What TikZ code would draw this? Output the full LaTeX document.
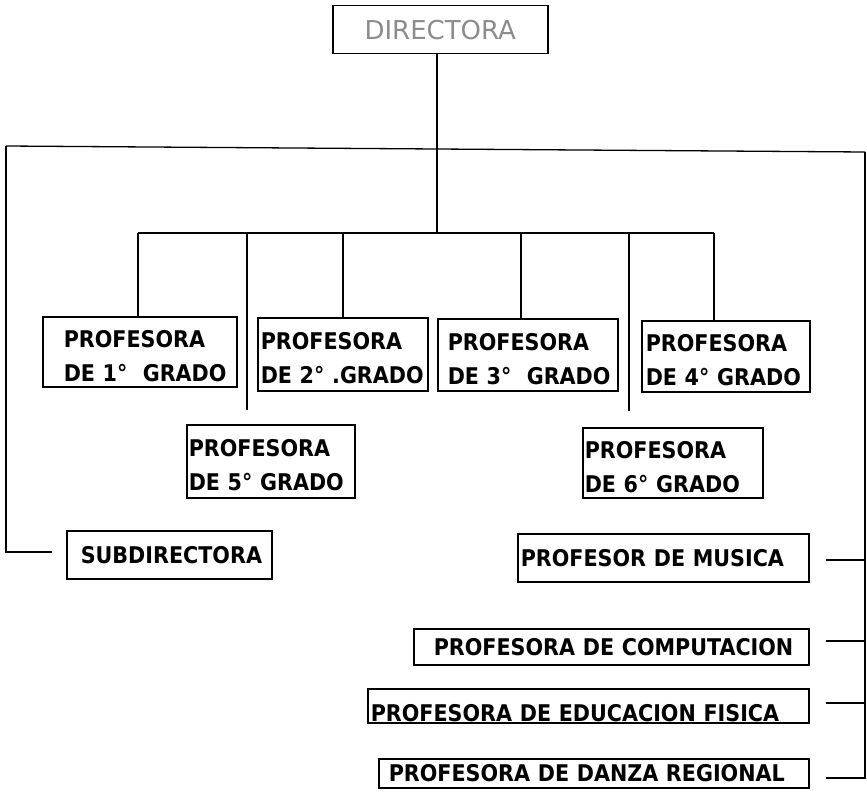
\documentclass[tikz,border=0pt]{standalone}
\usepackage{fontspec}
\setmainfont{DejaVu Sans}
\newfontfamily\boxfont{DejaVu Sans Condensed}
\begin{document}
\begin{tikzpicture}[x=1pt,y=-1pt,
  box/.style={draw, line width=1.5pt, anchor=north west, inner ysep=0pt, align=left,
    font=\boxfont\bfseries\fontsize{23}{34}\selectfont},
  grade/.style={box, text height=25pt},
  conn/.style={line width=1.3pt}]
\useasboundingbox (0,0) rectangle (867,797);
% boxes
\node[box, minimum width=215pt, minimum height=48pt, inner xsep=0pt, text width=215pt, align=center,
  text=black!45, font=\fontsize{26}{30}\selectfont] (dir) at (332,5) {DIRECTORA};
\node[grade, minimum height=70pt, inner xsep=21pt, text width=152pt] (b1) at (42,316) {\mbox{PROFESORA}\\\mbox{DE 1°\ \ GRADO}};
\node[grade, minimum height=73pt, inner xsep=3pt, text width=164pt] (b2) at (257,317) {\mbox{PROFESORA}\\\mbox{DE 2° .GRADO}};
\node[grade, minimum height=72pt, inner xsep=10pt, text width=160pt] (b3) at (437,318) {\mbox{PROFESORA}\\\mbox{DE 3°\ \ GRADO}};
\node[grade, minimum height=71pt, inner xsep=4pt, text width=160pt] (b4) at (641,320) {\mbox{PROFESORA}\\\mbox{DE 4° GRADO}};
\node[grade, minimum height=73pt, inner xsep=2pt, text width=164pt] (b5) at (186,424) {\mbox{PROFESORA}\\\mbox{DE 5° GRADO}};
\node[grade, minimum height=70pt, inner xsep=2pt, text width=176pt] (b6) at (582,427) {\mbox{PROFESORA}\\\mbox{DE 6° GRADO}};
\node[box, minimum height=48pt, inner xsep=14pt, text width=177pt] (sub) at (66,530) {\mbox{SUBDIRECTORA}};
\node[box, minimum height=48pt, inner xsep=3pt, text width=285pt] (mus) at (517,533) {\mbox{PROFESOR DE MUSICA}};
\node[box, minimum height=36pt, inner xsep=20pt, text width=355pt] (comp) at (413,628) {\mbox{PROFESORA DE COMPUTACION}};
\node[box, minimum height=34pt, inner xsep=3pt, text width=435pt] (edu) at (367,688) {\raisebox{-7pt}[17pt][0pt]{\mbox{PROFESORA DE EDUCACION FISICA}}};
\node[box, minimum height=29pt, inner xsep=10pt, text width=410pt] (dan) at (378,758) {\mbox{PROFESORA DE DANZA REGIONAL}};
% coordinates
\coordinate (tl) at (6,146);
\coordinate (tc) at (437,149);
\coordinate (tr) at (865,152);
\coordinate (sc) at (437,233);
\coordinate (s1) at (138,233);
\coordinate (s5) at (247,233);
\coordinate (s2) at (343,233);
\coordinate (s3) at (521,233);
\coordinate (s6) at (629,233);
\coordinate (s4) at (714,233);
\coordinate (e5) at (247,410);
\coordinate (e6) at (629,411);
\coordinate (lb) at (6,552);
\coordinate (le) at (52,552);
\coordinate (rm) at (865,560);
\coordinate (rc) at (865,641);
\coordinate (re) at (865,703);
\coordinate (rd) at (865,778);
\coordinate (em) at (826,560);
\coordinate (ec) at (826,641);
\coordinate (ee) at (826,703);
\coordinate (ed) at (826,778);
% connectors
\draw[conn] (tc |- dir.south) -- (tc) -- (sc);
\draw[conn] (tl) -- (tc) -- (tr);
\draw[conn] (s1) -- (s4);
\draw[conn] (tl) -- (lb) -- (le);
\draw[conn] (tr) -- (rd) -- (ed);
\draw[conn] (rm) -- (em);
\draw[conn] (rc) -- (ec);
\draw[conn] (re) -- (ee);
\draw[conn] (s1) -- (s1 |- b1.north);
\draw[conn] (s2) -- (s2 |- b2.north);
\draw[conn] (s3) -- (s3 |- b3.north);
\draw[conn] (s4) -- (s4 |- b4.north);
\draw[conn] (s5) -- (e5);
\draw[conn] (s6) -- (e6);
\end{tikzpicture}
\end{document}
